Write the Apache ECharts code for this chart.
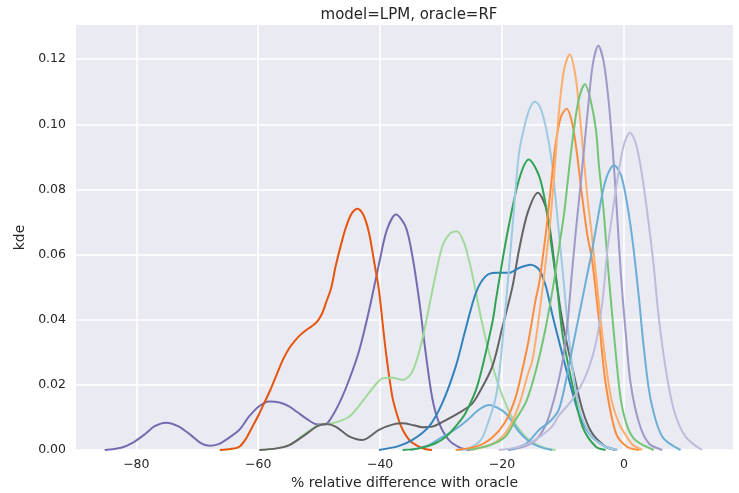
<!DOCTYPE html>
<html>
<head>
<meta charset="utf-8">
<script src="https://cdn.jsdelivr.net/npm/echarts@6/dist/echarts.min.js"></script>
<style>
  html, body { margin: 0; padding: 0; background: #fff; }
  #chart { width: 739px; height: 493px; }
</style>
</head>
<body>
<div id="chart"></div>
<script>
// x ticks and y ticks
var xTicks = [-80, -60, -40, -20, 0];
var yTicks = [0, 0.02, 0.04, 0.06, 0.08, 0.1, 0.12];

// one kde curve per group: x positions and densities
var purpleX = [-85.2,-82.5,-80.7,-78.5,-77,-75.1,-73,-71,-69.5,-68,-66.5,-65,-63.1,-61.5,-59.8,-58.2,-56.5,-55,-53.5,-52,-50.5,-49.2,-48.4,-46.7,-45.1,-43.4,-41.8,-40.2,-38.9,-37.4,-35.8,-34.7,-33.6,-32.5,-31.4,-30.3,-28.7,-27,-25.4];
var purpleY = [0,0.0007,0.0021,0.005,0.0073,0.0084,0.0072,0.0045,0.0022,0.0013,0.0018,0.0035,0.0062,0.0103,0.0135,0.0149,0.0146,0.0135,0.0115,0.0095,0.0079,0.0078,0.0088,0.0144,0.0215,0.0308,0.043,0.057,0.0675,0.0723,0.0685,0.0595,0.046,0.0295,0.0155,0.0082,0.003,0.0008,0];

var redX = [-66.3,-64.5,-63.1,-62,-61,-60,-59,-58,-57,-56,-55,-54,-53,-52,-51,-50.3,-49.5,-48.9,-48,-47.3,-46.2,-45.4,-44.6,-43.7,-42.7,-41.8,-41,-40.2,-39.1,-38,-37,-36.3,-35.2,-34.1,-32.8,-31.5];
var redY = [0,0.0003,0.001,0.0035,0.007,0.0105,0.0145,0.0185,0.023,0.0275,0.031,0.0335,0.0355,0.037,0.0383,0.0395,0.042,0.0451,0.05,0.0564,0.0646,0.0695,0.0728,0.0741,0.072,0.0665,0.058,0.0492,0.0308,0.0164,0.0095,0.0062,0.003,0.0015,0.0004,0];

var lgreenX = [-59.8,-57,-54.9,-52.2,-50,-47.8,-45.1,-43.5,-42.3,-41,-39.6,-38,-36.3,-34.7,-33.1,-31.4,-29.8,-28.5,-27.4,-26.2,-25,-23.5,-22,-20.5,-19,-17.5,-15.5,-13,-11.2];
var lgreenY = [0,0.0005,0.0015,0.0051,0.0077,0.0082,0.0102,0.0135,0.0164,0.0195,0.022,0.0222,0.0215,0.0241,0.0338,0.0492,0.0625,0.0665,0.0672,0.0635,0.055,0.041,0.029,0.0195,0.0125,0.0072,0.003,0.0006,0];

var greyX = [-59.8,-57,-54.9,-52.2,-50.3,-48.9,-47.3,-45.1,-42.9,-40.2,-38,-36.3,-34.5,-33.1,-31.4,-29.2,-27,-25,-23.8,-21.6,-19.9,-18.3,-17.2,-15.8,-14.1,-12.8,-12,-11.1,-10.4,-9.5,-8.5,-6.8,-5.2,-3,-1.5];
var greyY = [0,0.0005,0.0015,0.0048,0.0073,0.008,0.0072,0.0042,0.0031,0.0062,0.0078,0.0082,0.0076,0.007,0.0072,0.0092,0.0115,0.014,0.0174,0.0256,0.038,0.05,0.0615,0.0728,0.079,0.0745,0.066,0.0525,0.043,0.034,0.0256,0.0123,0.0051,0.001,0];

var blueX = [-40.2,-37,-34.7,-32,-29.8,-27.6,-26,-24.3,-22.7,-21,-18.9,-17.2,-15.3,-13.9,-12.8,-11.8,-10.7,-9,-7.4,-5.7,-3.5,-1.1];
var blueY = [0,0.0012,0.0031,0.0072,0.0144,0.0256,0.0369,0.0482,0.0533,0.0544,0.0544,0.0559,0.0569,0.0554,0.0502,0.042,0.0338,0.0215,0.0113,0.0051,0.0015,0];

var greenX = [-36.3,-33.6,-31,-29.2,-27.5,-26,-24,-21.6,-21,-19.9,-18.9,-17.2,-15.6,-13.9,-12.8,-11.8,-10.9,-10.1,-8.5,-6.8,-4.6,-3];
var greenY = [0,0.0005,0.002,0.0041,0.0075,0.0113,0.02,0.039,0.046,0.0585,0.0687,0.0831,0.0892,0.0841,0.0749,0.0615,0.0492,0.0359,0.0205,0.0072,0.001,0];

var lblueX = [-27,-25.4,-23.5,-22.7,-21,-19.9,-18.3,-17.2,-16.1,-15.3,-14.6,-13.8,-12.8,-11.8,-11.1,-10,-9,-8,-7,-5.2,-3,-1.1];
var lblueY = [0,0.0005,0.003,0.0062,0.0164,0.0338,0.068,0.0913,0.101,0.1055,0.1069,0.1055,0.099,0.0882,0.075,0.054,0.034,0.0195,0.0105,0.004,0.001,0];

var bumpX = [-35,-32,-30.5,-28.7,-27,-25.4,-23.7,-22.1,-20.8,-19.4,-18.3,-17.2,-15.8,-14.5,-13,-11.8];
var bumpY = [0,0.0015,0.0032,0.0051,0.0072,0.0097,0.0125,0.0138,0.013,0.0113,0.0085,0.0056,0.003,0.0015,0.0005,0];

var orangeX = [-27.6,-24,-21.5,-19.5,-17.8,-16.5,-15.6,-14.5,-13.9,-12.8,-12,-11.2,-10.3,-9.4,-8.5,-7.7,-6.8,-6,-5.2,-4.1,-3,-1.3,0.5,2.5];
var orangeY = [0,0.0012,0.004,0.0085,0.016,0.026,0.034,0.046,0.0513,0.0667,0.0805,0.094,0.1025,0.1048,0.1005,0.091,0.077,0.066,0.058,0.04,0.0205,0.0051,0.001,0];

var lorangeX = [-25,-22,-20,-18.5,-17,-15.8,-15,-14,-13,-12,-11.3,-10.6,-9.8,-8.9,-8,-7.3,-6.6,-5.9,-5.2,-4.1,-3,-2,-0.8,0.5,1.5,3];
var lorangeY = [0,0.0015,0.004,0.008,0.015,0.023,0.0277,0.04,0.055,0.0718,0.088,0.105,0.117,0.1215,0.1155,0.104,0.09,0.076,0.065,0.045,0.027,0.015,0.0082,0.004,0.0015,0];

var mgreenX = [-25.4,-22,-19.5,-17.8,-16,-14.5,-13,-12,-11.2,-10.5,-9.8,-9,-8.2,-7.4,-6.4,-5.5,-4.6,-4.1,-3.3,-2.6,-1.9,-1.2,-0.5,0.6,1.9,4.9];
var mgreenY = [0,0.0015,0.004,0.0092,0.015,0.024,0.036,0.046,0.055,0.064,0.0728,0.0862,0.0985,0.1077,0.1123,0.1077,0.0985,0.0875,0.0728,0.056,0.041,0.027,0.0154,0.007,0.003,0];

var lpurpleX = [-19,-16.5,-14.5,-13,-12,-11,-10,-9.2,-8.5,-7.9,-7.3,-6.6,-5.8,-5.1,-4.2,-3.3,-2.5,-1.8,-1.2,-0.5,0.3,1.1,2.5,4.1,6.3];
var lpurpleY = [0,0.001,0.003,0.007,0.012,0.019,0.028,0.04,0.055,0.067,0.078,0.0913,0.1067,0.1185,0.1241,0.119,0.107,0.0913,0.0749,0.054,0.0359,0.0205,0.0082,0.002,0];

var mblueX = [-19,-16,-13.9,-12,-10.7,-9.6,-8.5,-7.4,-6.3,-5.2,-4.3,-3.5,-2.7,-1.6,-0.5,0.3,1,1.6,2.5,3.3,4.4,6.3,9.3];
var mblueY = [0,0.002,0.0062,0.009,0.0123,0.0205,0.0308,0.041,0.0513,0.0615,0.071,0.079,0.0845,0.0874,0.0845,0.078,0.07,0.0615,0.046,0.0308,0.0154,0.0041,0];

var paleX = [-20.5,-17.5,-15.6,-13.5,-11.8,-10.7,-8.5,-6.3,-4.6,-3.5,-2.7,-1.7,-0.8,0.1,1,1.9,2.8,3.7,4.3,4.9,5.7,6.8,8.2,10.1,12.8];
var paleY = [0,0.0008,0.002,0.0045,0.0072,0.0105,0.0154,0.0226,0.0328,0.046,0.0615,0.075,0.0862,0.0944,0.0974,0.0945,0.0865,0.0749,0.066,0.0564,0.041,0.0256,0.0123,0.0041,0];

var curves = [
  [purpleX, purpleY, '#756bb1'],
  [redX, redY, '#e6550d'],
  [lgreenX, lgreenY, '#a1d99b'],
  [greyX, greyY, '#636363'],
  [bumpX, bumpY, '#6baed6'],
  [blueX, blueY, '#3182bd'],
  [greenX, greenY, '#31a354'],
  [lblueX, lblueY, '#9ecae1'],
  [orangeX, orangeY, '#fd8d3c'],
  [lorangeX, lorangeY, '#fdae6b'],
  [mgreenX, mgreenY, '#74c476'],
  [lpurpleX, lpurpleY, '#9e9ac8'],
  [mblueX, mblueY, '#6baed6'],
  [paleX, paleY, '#bcbddc']
];

var series = curves.map(function (c) {
  return {
    type: 'line',
    smooth: 0.3,
    showSymbol: false,
    lineStyle: { color: c[2], width: 2 },
    data: c[0].map(function (x, i) { return [x, c[1][i]]; })
  };
});

var txt = '#262626';
var myChart = echarts.init(document.getElementById('chart'));
myChart.setOption({
  animation: false,
  title: {
    text: 'model=LPM, oracle=RF',
    left: 404,
    textAlign: 'center',
    top: 3,
    textStyle: { fontFamily: 'DejaVu Sans', fontSize: 15, fontWeight: 'normal', color: txt }
  },
  grid: {
    left: 76, right: 6, top: 25, bottom: 43,
    outerBoundsMode: 'none',
    backgroundColor: '#eaeaf2', show: true, borderWidth: 0
  },
  xAxis: {
    type: 'value',
    min: -89.9,
    max: 17.9,
    name: '% relative difference with oracle',
    nameLocation: 'middle',
    nameGap: 25,
    nameTextStyle: { fontFamily: 'DejaVu Sans', fontSize: 14, color: txt },
    axisLine: { show: false },
    axisTick: { show: false, customValues: xTicks },
    axisLabel: {
      customValues: xTicks,
      margin: 8,
      fontFamily: 'DejaVu Sans', fontSize: 12.5, color: txt,
      formatter: function (v) { return String(v).replace('-', '\u2212'); }
    },
    splitLine: { show: true, lineStyle: { color: '#ffffff', width: 1.5 } }
  },
  yAxis: {
    type: 'value',
    min: 0,
    max: 0.1305,
    name: 'kde',
    nameLocation: 'middle',
    nameGap: 44,
    nameTextStyle: { fontFamily: 'DejaVu Sans', fontSize: 14, color: txt },
    axisLine: { show: false },
    axisTick: { show: false, customValues: yTicks },
    axisLabel: {
      customValues: yTicks,
      margin: 10,
      fontFamily: 'DejaVu Sans', fontSize: 12.5, color: txt,
      formatter: function (v) { return v.toFixed(2); }
    },
    splitLine: { show: true, lineStyle: { color: '#ffffff', width: 1.5 } }
  },
  series: series
});
</script>
</body>
</html>
